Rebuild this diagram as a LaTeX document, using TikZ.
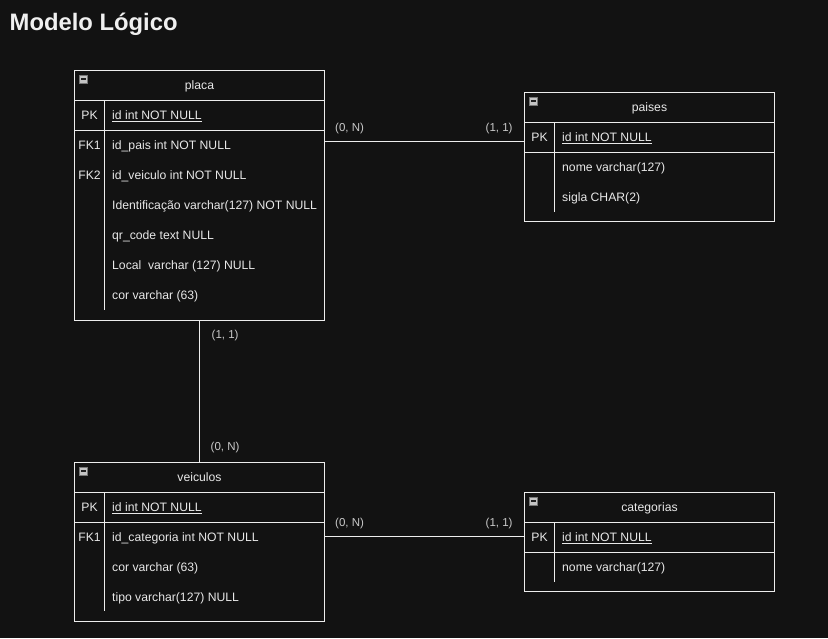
\documentclass[tikz,border=0pt]{standalone}
\usepackage{fontspec}
\setmainfont{Liberation Sans}
\usetikzlibrary{calc}
\definecolor{bg}{HTML}{121212}
\definecolor{ln}{HTML}{EDEDED}
\definecolor{tx}{HTML}{E8E8E8}
\definecolor{lbl}{HTML}{CACACA}
\definecolor{ttl}{HTML}{F0F0F0}
\definecolor{icofill}{HTML}{C4C4C4}
\definecolor{icobar}{HTML}{202020}
\begin{document}
\begin{tikzpicture}[x=1pt,y=-1pt,
  tbl/.style={draw=ln, line width=1pt, fill=bg, inner sep=0pt, outer sep=0pt, anchor=north west},
  sepline/.style={draw=ln, line width=1pt},
  divline/.style={draw=ln, line width=1pt},
  fld/.style={anchor=base west, text=tx, font=\fontsize{12.2}{14}\selectfont, inner sep=0pt},
  keyt/.style={anchor=base, text=tx, font=\fontsize{12.2}{14}\selectfont, inner sep=0pt},
  hdr/.style={anchor=base, text=tx, font=\fontsize{12.2}{14}\selectfont, inner sep=0pt},
  card/.style={anchor=base west, text=lbl, font=\fontsize{11.5}{13}\selectfont, inner sep=0pt},
  conn/.style={draw=ln, line width=1pt},
  ico/.style={rectangle, minimum size=8pt, inner sep=0pt, fill=icofill, draw=icofill!60!black, line width=0.5pt,
    path picture={\draw[icobar, line width=1.3pt] ([xshift=1.6pt]path picture bounding box.west) -- ([xshift=-1.6pt]path picture bounding box.east);}}
]
\useasboundingbox (0,0) rectangle (828,638);
\fill[bg] (0,0) rectangle (828,638);

\node[anchor=base west, text=ttl, font=\fontsize{23.8}{28}\selectfont\bfseries, inner sep=0pt] (title) at (9.5,30) {Modelo Lógico};

% ---------- placa ----------
\node[tbl, minimum width=250pt, minimum height=250pt] (placa) at (74.5,70) {};
\draw[sepline] (74.5,100) -- (324.5,100);
\draw[sepline] (74.5,130) -- (324.5,130);
\draw[divline] (104.3,100) -- (104.3,309.5);
\node[ico] (placaico) at (83.5,79) {};
\node[hdr] (placat) at (199.5,89.3) {placa};
\node[keyt] (placak1) at (89.5,119.3) {PK};
\node[fld] (placaf1) at (112,119.3) {\underline{id int NOT NULL}};
\node[keyt] (placak2) at (89.5,149.3) {FK1};
\node[fld] (placaf2) at (112,149.3) {id\_pais int NOT NULL};
\node[keyt] (placak3) at (89.5,179.3) {FK2};
\node[fld] (placaf3) at (112,179.3) {id\_veiculo int NOT NULL};
\node[fld] (placaf4) at (112,209.3) {Identificação varchar(127) NOT NULL};
\node[fld] (placaf5) at (112,239.3) {qr\_code text NULL};
\node[fld] (placaf6) at (112,269.3) {Local\ \ varchar (127) NULL};
\node[fld] (placaf7) at (112,299.3) {cor varchar (63)};

% ---------- paises ----------
\node[tbl, minimum width=250pt, minimum height=129pt] (paises) at (524.5,92) {};
\draw[sepline] (524.5,122) -- (774.5,122);
\draw[sepline] (524.5,152) -- (774.5,152);
\draw[divline] (554.5,122) -- (554.5,211.5);
\node[ico] (paisesico) at (533.5,101) {};
\node[hdr] (paisest) at (649.5,111.3) {paises};
\node[keyt] (paisesk1) at (539.5,141.3) {PK};
\node[fld] (paisesf1) at (562,141.3) {\underline{id int NOT NULL}};
\node[fld] (paisesf2) at (562,171.3) {nome varchar(127)};
\node[fld] (paisesf3) at (562,201.3) {sigla CHAR(2)};

% ---------- veiculos ----------
\node[tbl, minimum width=250pt, minimum height=159pt] (veiculos) at (74.5,462) {};
\draw[sepline] (74.5,492) -- (324.5,492);
\draw[sepline] (74.5,522) -- (324.5,522);
\draw[divline] (104.3,492) -- (104.3,611);
\node[ico] (veiculosico) at (83.5,471) {};
\node[hdr] (veiculost) at (199.5,481.3) {veiculos};
\node[keyt] (veiculosk1) at (89.5,511.3) {PK};
\node[fld] (veiculosf1) at (112,511.3) {\underline{id int NOT NULL}};
\node[keyt] (veiculosk2) at (89.5,541.3) {FK1};
\node[fld] (veiculosf2) at (112,541.3) {id\_categoria int NOT NULL};
\node[fld] (veiculosf3) at (112,571.3) {cor varchar (63)};
\node[fld] (veiculosf4) at (112,601.3) {tipo varchar(127) NULL};

% ---------- categorias ----------
\node[tbl, minimum width=250pt, minimum height=99pt] (categorias) at (524.5,492) {};
\draw[sepline] (524.5,522) -- (774.5,522);
\draw[sepline] (524.5,552) -- (774.5,552);
\draw[divline] (554.5,522) -- (554.5,581.5);
\node[ico] (categoriasico) at (533.5,501) {};
\node[hdr] (categoriast) at (649.5,511.3) {categorias};
\node[keyt] (categoriask1) at (539.5,541.3) {PK};
\node[fld] (categoriasf1) at (562,541.3) {\underline{id int NOT NULL}};
\node[fld] (categoriasf2) at (562,571.3) {nome varchar(127)};

% ---------- connectors ----------
\coordinate (c1) at (0,141.3);
\coordinate (c3) at (0,536.8);
\draw[conn] (placa.east |- c1) -- (paises.west |- c1);
\draw[conn] (placa.south) -- (veiculos.north);
\draw[conn] (veiculos.east |- c3) -- (categorias.west |- c3);

\node[card] (l1) at (335,131) {(0, N)};
\node[card] (l2) at (485.5,131) {(1, 1)};
\node[card] (l3) at (211.5,338.3) {(1, 1)};
\node[card] (l4) at (210.5,450) {(0, N)};
\node[card] (l5) at (335,526) {(0, N)};
\node[card] (l6) at (485.5,526) {(1, 1)};
\end{tikzpicture}
\end{document}
